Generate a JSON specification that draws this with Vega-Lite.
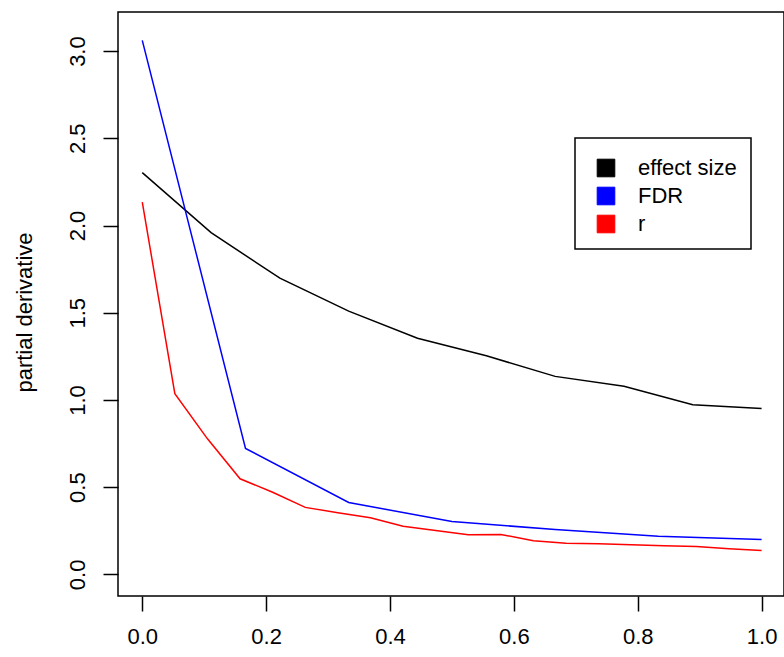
{
  "$schema": "https://vega.github.io/schema/vega-lite/v6.json",
  "width": 666,
  "height": 584,
  "autosize": {"type": "none"},
  "padding": {"left": 118, "top": 12, "right": 0, "bottom": 61},
  "background": "white",
  "config": {
    "view": {"stroke": "black", "strokeWidth": 1.5},
    "font": "Liberation Sans",
    "axis": {"labelFont": "Liberation Sans", "titleFont": "Liberation Sans", "labelColor": "black", "titleColor": "black", "tickColor": "black", "tickWidth": 1.5, "tickSize": 15, "grid": false, "domain": false, "labelFontSize": 22, "titleFontSize": 22, "titleFontWeight": "normal", "labelFlush": false, "labelOverlap": false}
  },
  "data": {
    "values": [
      {"series": "effect size", "x": 0.0, "y": 2.303},
      {"series": "effect size", "x": 0.1111, "y": 1.959},
      {"series": "effect size", "x": 0.2222, "y": 1.698},
      {"series": "effect size", "x": 0.3333, "y": 1.509},
      {"series": "effect size", "x": 0.4444, "y": 1.354},
      {"series": "effect size", "x": 0.5556, "y": 1.253},
      {"series": "effect size", "x": 0.6667, "y": 1.135},
      {"series": "effect size", "x": 0.7778, "y": 1.079},
      {"series": "effect size", "x": 0.8889, "y": 0.972},
      {"series": "effect size", "x": 1.0, "y": 0.951},
      {"series": "FDR", "x": 0.0, "y": 3.061},
      {"series": "FDR", "x": 0.1667, "y": 0.722},
      {"series": "FDR", "x": 0.3333, "y": 0.412},
      {"series": "FDR", "x": 0.5, "y": 0.303},
      {"series": "FDR", "x": 0.6667, "y": 0.257},
      {"series": "FDR", "x": 0.8333, "y": 0.219},
      {"series": "FDR", "x": 1.0, "y": 0.2},
      {"series": "r", "x": 0.0, "y": 2.134},
      {"series": "r", "x": 0.0526, "y": 1.036},
      {"series": "r", "x": 0.1053, "y": 0.777},
      {"series": "r", "x": 0.1579, "y": 0.548},
      {"series": "r", "x": 0.2105, "y": 0.471},
      {"series": "r", "x": 0.2632, "y": 0.384},
      {"series": "r", "x": 0.3158, "y": 0.353},
      {"series": "r", "x": 0.3684, "y": 0.325},
      {"series": "r", "x": 0.4211, "y": 0.276},
      {"series": "r", "x": 0.4737, "y": 0.252},
      {"series": "r", "x": 0.5263, "y": 0.227},
      {"series": "r", "x": 0.5789, "y": 0.229},
      {"series": "r", "x": 0.6316, "y": 0.193},
      {"series": "r", "x": 0.6842, "y": 0.179},
      {"series": "r", "x": 0.7368, "y": 0.175},
      {"series": "r", "x": 0.7895, "y": 0.17},
      {"series": "r", "x": 0.8421, "y": 0.164},
      {"series": "r", "x": 0.8947, "y": 0.16},
      {"series": "r", "x": 0.9474, "y": 0.147},
      {"series": "r", "x": 1.0, "y": 0.137}
    ]
  },
  "mark": {"type": "line", "strokeWidth": 1.5},
  "encoding": {
    "x": {
      "field": "x", "type": "quantitative",
      "scale": {"domain": [-0.0392, 1.0362], "nice": false, "zero": false},
      "axis": {"values": [0, 0.2, 0.4, 0.6, 0.8, 1.0], "format": ".1f", "title": null, "labelPadding": 15}
    },
    "y": {
      "field": "y", "type": "quantitative",
      "scale": {"domain": [-0.124, 3.224], "nice": false, "zero": false},
      "axis": {"values": [0, 0.5, 1.0, 1.5, 2.0, 2.5, 3.0], "format": ".1f", "title": "partial derivative", "labelAngle": -90, "labelAlign": "center", "labelBaseline": "bottom", "labelPadding": 14, "titlePadding": 30, "titleY": 300}
    },
    "color": {
      "field": "series", "type": "nominal",
      "scale": {"domain": ["effect size", "FDR", "r"], "range": ["black", "blue", "red"]},
      "legend": {
        "orient": "none", "legendX": 457, "legendY": 126,
        "title": " ", "titleFontSize": 1, "titlePadding": 4,
        "symbolType": "square", "symbolSize": 310, "symbolStrokeWidth": 1,
        "strokeColor": "black", "fillColor": "white", "padding": 14,
        "labelFontSize": 22, "labelColor": "black", "labelFont": "Liberation Sans",
        "labelOffset": 21, "rowPadding": 6, "symbolOffset": 6,
        "encode": {
          "symbols": {"update": {"fill": {"scale": "color", "field": "value"}, "stroke": {"value": "#333333"}, "strokeWidth": {"value": 1}}},
          "legend": {"update": {"strokeWidth": {"value": 1.5}}}
        }
      }
    }
  }
}
